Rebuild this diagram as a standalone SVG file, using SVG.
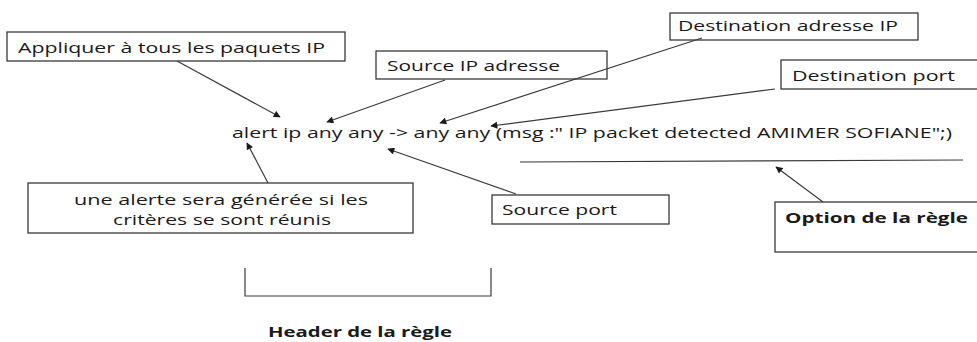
<svg xmlns="http://www.w3.org/2000/svg" width="977" height="342" viewBox="0 0 977 342">
  <defs>
    <style>
      .box { fill: #ffffff; stroke: #3a3a3a; stroke-width: 1.3; }
      .lbl { font-family: "Open Sans", "Liberation Sans", sans-serif; font-size: 15px; fill: #1a1a1a; }
      .bold { font-weight: bold; }
      .conn { stroke: #3a3a3a; stroke-width: 1.2; fill: none; }
      .arr { marker-end: url(#ah); }
    </style>
    <marker id="ah" viewBox="0 0 10 10" refX="9" refY="5" markerWidth="8" markerHeight="7" markerUnits="userSpaceOnUse" orient="auto">
      <path d="M0,0 L10,5 L0,10 z" fill="#1a1a1a"/>
    </marker>
  </defs>
  <rect width="977" height="342" fill="#ffffff"/>

  <g id="rule">
    <text class="lbl" x="232" y="138" textLength="720" lengthAdjust="spacingAndGlyphs">alert ip any any -&gt; any any (msg :" IP packet detected AMIMER SOFIANE";)</text>
  </g>

  <g id="node-appliquer">
    <rect class="box" x="7" y="32" width="338" height="29"/>
    <text class="lbl" x="18" y="53" textLength="307" lengthAdjust="spacingAndGlyphs">Appliquer à tous les paquets IP</text>
  </g>

  <g id="node-source-ip">
    <rect class="box" x="376" y="51" width="231" height="28"/>
    <text class="lbl" x="387" y="71" textLength="173" lengthAdjust="spacingAndGlyphs">Source IP adresse</text>
  </g>

  <g id="node-dest-ip">
    <rect class="box" x="670" y="13" width="248" height="27"/>
    <text class="lbl" x="678" y="31" textLength="220" lengthAdjust="spacingAndGlyphs">Destination adresse IP</text>
  </g>

  <g id="node-dest-port">
    <rect class="box" x="781" y="60" width="210" height="29"/>
    <text class="lbl" x="792" y="81" textLength="163" lengthAdjust="spacingAndGlyphs">Destination port</text>
  </g>

  <g id="node-alerte">
    <rect class="box" x="28" y="183" width="385" height="50"/>
    <text class="lbl" x="74" y="205" textLength="294" lengthAdjust="spacingAndGlyphs">une alerte sera générée si les</text>
    <text class="lbl" x="113" y="225" textLength="218" lengthAdjust="spacingAndGlyphs">critères se sont réunis</text>
  </g>

  <g id="node-source-port">
    <rect class="box" x="492" y="195" width="177" height="29"/>
    <text class="lbl" x="502" y="215" textLength="115" lengthAdjust="spacingAndGlyphs">Source port</text>
  </g>

  <g id="node-option">
    <rect class="box" x="775" y="202" width="215" height="50"/>
    <text class="lbl bold" x="785" y="223" textLength="183" lengthAdjust="spacingAndGlyphs">Option de la règle</text>
  </g>

  <g id="node-header">
    <text class="lbl bold" x="268" y="337" font-size="14" textLength="184" lengthAdjust="spacingAndGlyphs">Header de la règle</text>
  </g>

  <g id="connectors">
    <line class="conn arr" x1="177" y1="61" x2="280" y2="117"/>
    <line class="conn arr" x1="445" y1="80" x2="327" y2="122"/>
    <line class="conn arr" x1="702" y1="38" x2="440" y2="123"/>
    <line class="conn arr" x1="775" y1="89" x2="491" y2="126"/>
    <line class="conn arr" x1="823" y1="202" x2="776" y2="167"/>
    <line class="conn arr" x1="516" y1="194" x2="388" y2="149"/>
    <line class="conn arr" x1="268" y1="183" x2="247" y2="143"/>
    <line class="conn" x1="520" y1="162" x2="963" y2="160"/>
    <polyline class="conn" points="245,268 245,296 491,296 491,268"/>
  </g>
</svg>
